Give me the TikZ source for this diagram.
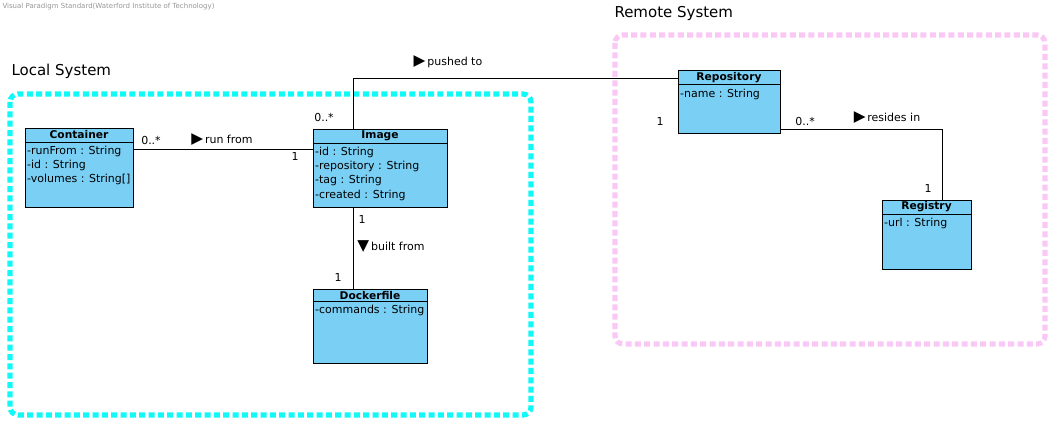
\documentclass[tikz,border=0pt]{standalone}
\usepackage{fontspec}
\setmainfont{DejaVu Sans}
\usetikzlibrary{positioning}

\definecolor{classfill}{RGB}{122,207,245}
\definecolor{localline}{RGB}{16,248,248}
\definecolor{remoteline}{RGB}{250,200,245}
\definecolor{notegray}{RGB}{150,150,150}

\tikzset{every picture/.style={line width=0.75pt}}
\tikzset{
  classbox/.style={draw, fill=classfill, anchor=north west, inner sep=0pt, outer sep=0pt},
  classname/.style={inner sep=0pt, font=\fontsize{8pt}{9pt}\selectfont\bfseries},
  attrlist/.style={anchor=north west, align=left, inner xsep=1.2pt, inner ysep=2.6pt, font=\fontsize{8.25pt}{10.7pt}\selectfont},
  mult/.style={inner sep=0.75pt, font=\fontsize{8.25pt}{10pt}\selectfont},
  systembox/.style={line width=3.9pt, dash pattern=on 4.5pt off 2.5pt, rounded corners=6pt},
  systemtitle/.style={anchor=west, inner sep=0pt, font=\fontsize{11.25pt}{13pt}\selectfont}
}
\newcommand{\dirmark}[1]{{\fontsize{11.5pt}{11.5pt}\selectfont #1}\,}

\begin{document}
\begin{tikzpicture}[x=0.75pt,y=0.75pt,yscale=-1,xscale=1]
\useasboundingbox (0,0) rectangle (1057,428);

% Text Node
\node [anchor=west, inner sep=0pt, text=notegray, font=\fontsize{5.25pt}{6pt}\selectfont] (vpnote) at (2,7) {Visual Paradigm Standard(Waterford Institute of Technology)};

%Shape: Rounded Rect [id:local]
\draw [systembox, color=localline] (10,94) rectangle (531,415);
%Shape: Rounded Rect [id:remote]
\draw [systembox, color=remoteline] (615,35) rectangle (1045,344);

% Text Node
\node [systemtitle] (localtitle) at (11,71) {Local System};
% Text Node
\node [systemtitle] (remotetitle) at (614,13) {Remote System};

%Class: Container
\node [classbox, minimum width=81pt, minimum height=59.25pt] (container) at (25,128) {};
\draw ([yshift=10.5pt]container.north west) -- ([yshift=10.5pt]container.north east);
\node [classname] (containername) at ([yshift=5.25pt]container.north) {Container};
\node [attrlist] (containerattr) at ([yshift=10.5pt]container.north west) {-runFrom : String\\-id : String\\-volumes : String[]};

%Class: Image
\node [classbox, minimum width=100.5pt, minimum height=58.5pt] (image) at (313,129) {};
\draw ([yshift=10.5pt]image.north west) -- ([yshift=10.5pt]image.north east);
\node [classname] (imagename) at ([yshift=5.25pt]image.north) {Image};
\node [attrlist] (imageattr) at ([yshift=10.5pt]image.north west) {-id : String\\-repository : String\\-tag : String\\-created : String};

%Class: Dockerfile
\node [classbox, minimum width=85.5pt, minimum height=55.5pt] (dockerfile) at (313,289) {};
\draw ([yshift=9.5pt]dockerfile.north west) -- ([yshift=9.5pt]dockerfile.north east);
\node [classname] (dockerfilename) at ([yshift=4.75pt]dockerfile.north) {Dockerfile};
\node [attrlist] (dockerfileattr) at ([yshift=9.5pt]dockerfile.north west) {-commands : String};

%Class: Repository
\node [classbox, minimum width=76.5pt, minimum height=46.5pt] (repository) at (678,71) {};
\draw ([yshift=10.5pt]repository.north west) -- ([yshift=10.5pt]repository.north east);
\node [classname] (repositoryname) at ([yshift=5.25pt]repository.north) {Repository};
\node [attrlist] (repositoryattr) at ([yshift=10.5pt]repository.north west) {-name : String};

%Class: Registry
\node [classbox, minimum width=66.75pt, minimum height=51.75pt] (registry) at (882,200) {};
\draw ([yshift=10.5pt]registry.north west) -- ([yshift=10.5pt]registry.north east);
\node [classname] (registryname) at ([yshift=5.25pt]registry.north) {Registry};
\node [attrlist] (registryattr) at ([yshift=10.5pt]registry.north west) {-url : String};

%Straight Lines: run from
\coordinate (runA) at ([yshift=15.75pt]container.north east);
\draw (runA) -- (runA -| image.west);
%Straight Lines: pushed to
\coordinate (pushA) at ([xshift=30pt]image.north west);
\coordinate (pushB) at ([yshift=6pt]repository.north west);
\draw (pushA) |- (pushB);
%Straight Lines: built from
\coordinate (builtA) at ([xshift=30pt]image.south west);
\draw (builtA) -- (builtA |- dockerfile.north);
%Straight Lines: resides in
\coordinate (resA) at ([yshift=43.5pt]repository.north east);
\coordinate (resB) at ([xshift=45pt]registry.north west);
\draw (resA) -| (resB);

% Text Node
\node [mult] (runmultA) at (151,140) {0..*};
% Text Node
\node [mult] (runlabel) at (222,140) {\dirmark{▶}run from};
% Text Node
\node [mult] (runmultB) at (295,156) {1};
% Text Node
\node [mult] (pushmultA) at (324,117) {0..*};
% Text Node
\node [mult] (pushlabel) at (448,62) {\dirmark{▶}pushed to};
% Text Node
\node [mult] (pushmultB) at (660,121) {1};
% Text Node
\node [mult] (builtmultA) at (362,219) {1};
% Text Node
\node [mult] (builtlabel) at (391,247) {\dirmark{▼}built from};
% Text Node
\node [mult] (builtmultB) at (338,277) {1};
% Text Node
\node [mult] (resmultA) at (805,121) {0..*};
% Text Node
\node [mult] (reslabel) at (887,118) {\dirmark{▶}resides in};
% Text Node
\node [mult] (resmultB) at (928,188) {1};

\end{tikzpicture}
\end{document}
